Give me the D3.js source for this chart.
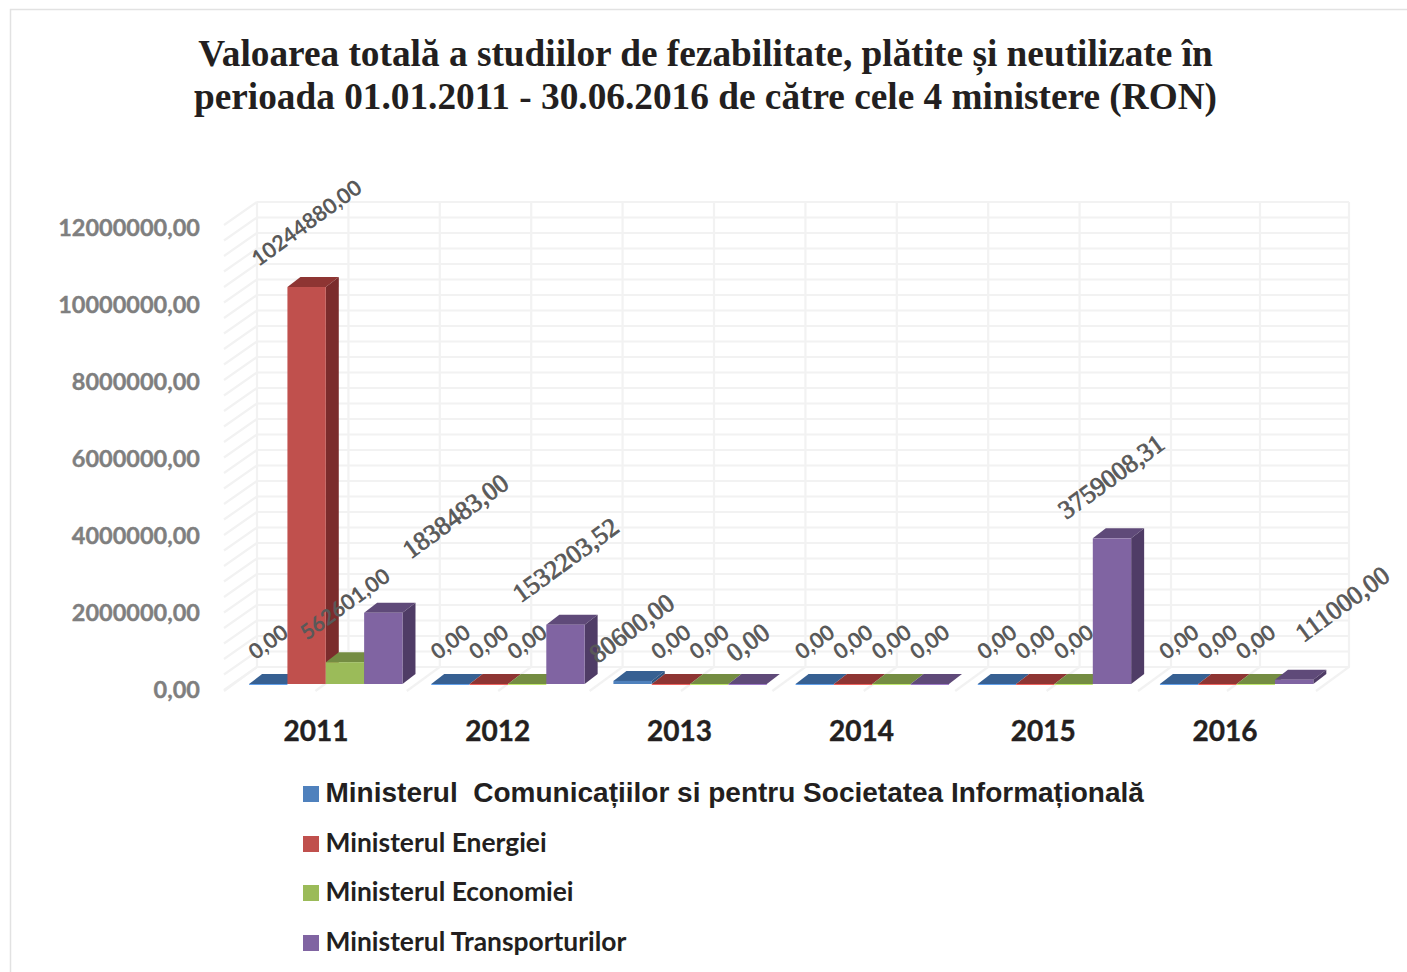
<!DOCTYPE html>
<html><head><meta charset="utf-8">
<script src="https://cdnjs.cloudflare.com/ajax/libs/d3/7.8.5/d3.min.js"></script>
<style>html,body{margin:0;padding:0;background:#fff;overflow:hidden}svg{display:block}</style>
</head><body><svg id="c" width="1407" height="972"></svg>
<script>
const titleLines = ["Valoarea totală a studiilor de fezabilitate, plătite și neutilizate în","perioada 01.01.2011 - 30.06.2016 de către cele 4 ministere (RON)"];
const years = ["2011","2012","2013","2014","2015","2016"];
const seriesNames = ["Ministerul  Comunicațiilor si pentru Societatea Informațională","Ministerul Energiei","Ministerul Economiei","Ministerul Transporturilor"];
const comunicatii = [0,0,80600,0,0,0];
const energie = [10244880,0,0,0,0,0];
const economie = [562601,0,0,0,0,0];
const transporturi = [1838483,1532203.52,0,0,3759008.31,111000];
const yTicks = [0,2000000,4000000,6000000,8000000,10000000,12000000];

// styling & layout, separate from the data
const allSeries = [comunicatii,energie,economie,transporturi];
const front = ["#4f81bd","#c0504d","#9bbb59","#8064a2"];
const top_ = ["#376092","#8e3533","#748c42","#5f4a79"];
const side = ["#2f5480","#7b2c2c","#5f7336","#4f3c66"];
// manually moved labels in the original: [series, year index] -> centre shift
const labelShift = {"3-0":[72,-97],"3-5":[48,-76],"3-1":[0,-65],"3-4":[-1,-62],"0-2":[-1,-53],"1-0":[0,-64],"2-0":[0,-58]};
const serifLabels = new Set(["3-0","3-1","3-4","3-5","0-2","3-2"]);

const svg = d3.select("#c");
const x = d3.scaleBand().domain(years).range([223.2,1316.2]);
const xLabel = d3.scaleBand().domain(years).range([225,1316]);
const y = d3.scaleLinear().domain([0,12000000]).range([690,225]);
const yLabel = d3.scaleLinear().domain([0,12000000]).range([690,228]);
const wall = d3.scaleLinear().domain([0,10,12]).range([257,1171,1349]);
const backDx = 33, backDy = -23;
const barW = 38.35, barDx = 13, barDy = -10, offX = 11.5, offY = -6;

// frame
svg.append("path").attr("d","M10.5 972V9.5H1407").attr("fill","none").attr("stroke","#e2e2e2").attr("stroke-width",1.5);

// title
svg.append("g").selectAll("text").data(titleLines).join("text")
  .attr("x",705.5).attr("y",(d,i)=>66.4+i*43).attr("text-anchor","middle")
  .attr("font-family","'Liberation Serif'").attr("font-weight","bold").attr("font-size",37.3).attr("fill","#231f20").text(d=>d);

// gridlines
const grid = svg.append("g").attr("stroke","#f2f2f2").attr("stroke-width",2.2).attr("fill","none");
const minor = d3.range(0,12000001,400000);
grid.selectAll(".h").data(minor).join("path").attr("class","h")
  .attr("d",v=>`M${wall(0)} ${y(v)+backDy}H${wall(12)}`);
grid.selectAll(".d").data(minor).join("path").attr("class","d")
  .attr("d",v=>`M${wall(0)-backDx} ${y(v)}L${wall(0)} ${y(v)+backDy}`);
grid.selectAll(".v").data(d3.range(0,13)).join("path").attr("class","v")
  .attr("d",i=>`M${wall(i)} ${y(12000000)+backDy}V${y(0)+backDy}L${wall(i)-backDx} ${y(0)+1}`);

// y labels
svg.append("g").selectAll("text").data(yTicks).join("text")
  .attr("x",200).attr("y",v=>yLabel(v)+8).attr("text-anchor","end")
  .attr("font-family","Lato").attr("font-weight","bold").attr("font-size",23.5).attr("fill","#7f7f7f")
  .attr("stroke","#7f7f7f").attr("stroke-width",0.4)
  .text(v=>d3.format(".2f")(v).replace(".",","));

// bars
const bars = svg.append("g");
years.forEach((yr,i)=>{
  allSeries.forEach((s,k)=>{
    const v = s[i];
    const bx = x(yr)+(x.bandwidth()-4*barW)/2+offX+k*barW;
    const y0 = y(0)+offY, yt = y(v)+offY;
    const g = bars.append("g");
    g.append("path").attr("fill",top_[k])
      .attr("d",`M${bx} ${yt}l${barDx} ${barDy}h${barW}l${-barDx} ${-barDy}z`);
    if (v>0){
      g.append("path").attr("fill",side[k])
        .attr("d",`M${bx+barW} ${yt}l${barDx} ${barDy}V${y0+barDy}L${bx+barW} ${y0}z`);
      g.append("rect").attr("x",bx).attr("y",yt).attr("width",barW).attr("height",y0-yt).attr("fill",front[k]);
    } else {
      g.append("path").attr("stroke",d3.color(front[k]).brighter(0.6)).attr("stroke-width",1).attr("d",`M${bx} ${y0+.5}h${barW}`);
    }
  });
});

// data labels
const lab = svg.append("g");
years.forEach((yr,i)=>{
  allSeries.forEach((s,k)=>{
    const v = s[i], key = k+"-"+i;
    const bx = x(yr)+(x.bandwidth()-4*barW)/2+offX+(k+.5)*barW;
    const sh = labelShift[key]||[0,-42];
    const serif = serifLabels.has(key);
    const cy = y(v)+offY+sh[1], cx = bx+sh[0];
    lab.append("text").attr("transform",`translate(${cx},${cy}) rotate(-36)`)
      .attr("text-anchor","middle").attr("dy","0.35em")
      .attr("font-family",serif?"'Liberation Serif'":"Lato")
      .attr("font-weight",serif?"normal":"bold")
      .attr("font-size",serif?26:21.5).attr("fill","#595959")
      .attr("stroke",serif?"#595959":"none").attr("stroke-width",serif?0.8:0)
      .text(d3.format(".2f")(v).replace(".",","));
  });
});

// category labels
svg.append("g").selectAll("text").data(years).join("text")
  .attr("x",d=>xLabel(d)+xLabel.bandwidth()/2).attr("y",741).attr("text-anchor","middle")
  .attr("font-family","Lato").attr("font-weight","bold").attr("font-size",28).attr("fill","#231f20")
  .attr("stroke","#231f20").attr("stroke-width",0.4).text(d=>d);

// legend
const legY = [794,844,893,943];
const leg = svg.append("g");
seriesNames.forEach((n,k)=>{
  leg.append("rect").attr("x",303).attr("y",legY[k]-8).attr("width",16).attr("height",16).attr("fill",front[k]);
  leg.append("text").attr("x",325.5).attr("y",legY[k]+8)
    .attr("font-family",k==0?"'Liberation Sans'":"Lato").attr("font-weight","bold")
    .attr("font-size",k==0?28:26.4).attr("fill","#231f20").style("white-space","pre").text(n);
});
</script></body></html>
